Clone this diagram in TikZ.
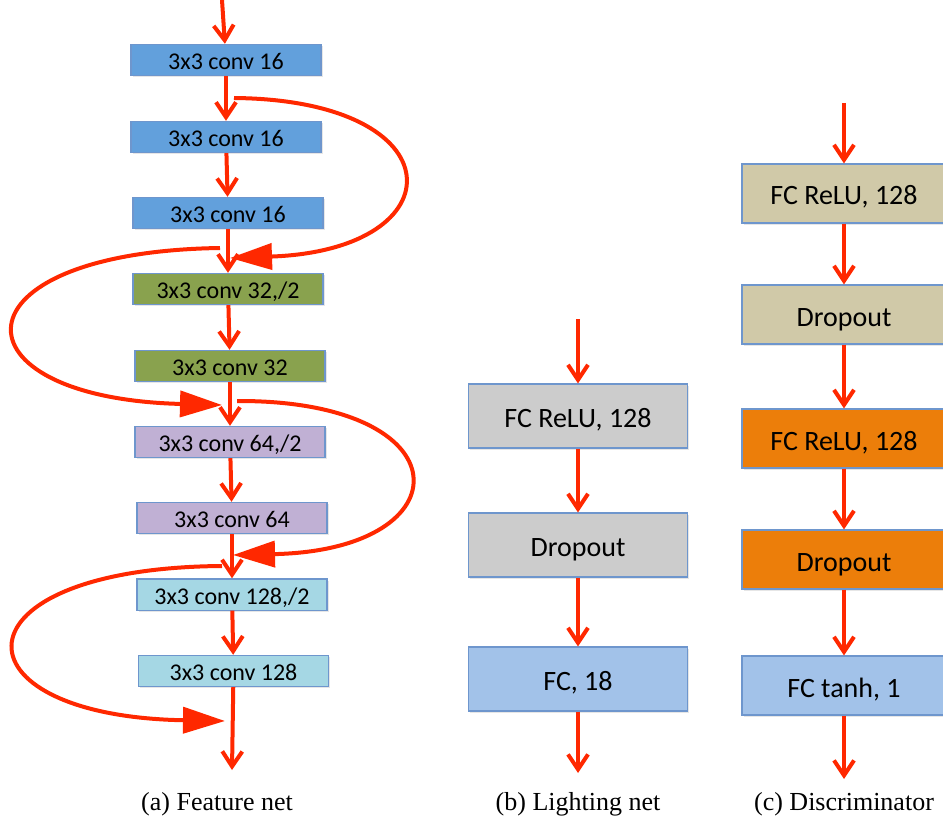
\documentclass[tikz,border=0pt]{standalone}
\usepackage{fontspec}
\setmainfont{Liberation Serif}
\setsansfont{Carlito}
\usetikzlibrary{arrows.meta,shadows}

\definecolor{arrowred}{RGB}{255,40,0}
\definecolor{boxline}{RGB}{110,150,205}
\definecolor{convblue}{RGB}{98,160,220}
\definecolor{convgreen}{RGB}{137,162,78}
\definecolor{convpurple}{RGB}{192,176,212}
\definecolor{convcyan}{RGB}{165,215,228}
\definecolor{fcgray}{RGB}{204,204,204}
\definecolor{fcblue}{RGB}{162,194,233}
\definecolor{fctan}{RGB}{208,201,168}
\definecolor{fcorange}{RGB}{236,126,10}

\begin{document}
\begin{tikzpicture}[x=0.5pt,y=-0.5pt]
  \tikzstyle{every node}=[font=\sffamily]
  \tikzstyle{layer}=[draw=boxline, line width=0.6pt, inner sep=0pt,
    drop shadow={opacity=0.2, shadow xshift=0.8pt, shadow yshift=-0.8pt}]
  \tikzstyle{convbox}=[layer, minimum width=95pt, minimum height=15pt,
    text height=12.6pt, text depth=3pt, font=\sffamily\fontsize{12}{12}\selectfont]
  \tikzstyle{lightbox}=[layer, minimum width=109.5pt, minimum height=32pt,
    text height=15pt, text depth=3.5pt, font=\sffamily\fontsize{14}{14}\selectfont]
  \tikzstyle{discbox}=[layer, minimum width=102pt, minimum height=29.5pt,
    text height=15pt, text depth=3.5pt, font=\sffamily\fontsize{14}{14}\selectfont]
  \tikzstyle{flow}=[draw=arrowred, line width=2pt, -{Straight Barb[length=7.5pt,width=10pt]}]
  \tikzstyle{skip}=[draw=arrowred, line width=2pt, -{Triangle[length=21pt,width=13pt]}]
  \tikzstyle{caption}=[font=\rmfamily\fontsize{13}{13}\selectfont]

  \useasboundingbox (0,0) rectangle (943,824);

  % (a) feature net
  \node[convbox, fill=convblue] (conva) at (226,60) {3x3 conv 16};
  \node[convbox, fill=convblue] (convb) at (226,137) {3x3 conv 16};
  \node[convbox, fill=convblue] (convc) at (228,213) {3x3 conv 16};
  \node[convbox, fill=convgreen] (convd) at (228,289) {3x3 conv 32,/2};
  \node[convbox, fill=convgreen] (conve) at (230,366) {3x3 conv 32};
  \node[convbox, fill=convpurple] (convf) at (230,442) {3x3 conv 64,/2};
  \node[convbox, fill=convpurple] (convg) at (232,518) {3x3 conv 64};
  \node[convbox, fill=convcyan] (convh) at (232,594.5) {3x3 conv 128,/2};
  \node[convbox, fill=convcyan] (convi) at (233.5,671) {3x3 conv 128};

  \coordinate (featin) at (222,0);
  \coordinate (featout) at (232,770);

  % (b) lighting net
  \node[lightbox, fill=fcgray] (lightfc) at (578,416) {FC ReLU, 128};
  \node[lightbox, fill=fcgray] (lightdrop) at (578,545) {Dropout};
  \node[lightbox, fill=fcblue] (lightout) at (578,679) {FC, 18};

  \coordinate (lightin) at (578,319);
  \coordinate (lightend) at (578,773);

  % (c) discriminator
  \node[discbox, fill=fctan] (discfc) at (844,193.5) {FC ReLU, 128};
  \node[discbox, fill=fctan] (discdrop) at (844,314.5) {Dropout};
  \node[discbox, fill=fcorange] (discfcb) at (844,438.5) {FC ReLU, 128};
  \node[discbox, fill=fcorange] (discdropb) at (844,559.5) {Dropout};
  \node[discbox, fill=fcblue] (discout) at (844,685.5) {FC tanh, 1};

  \coordinate (discin) at (844,103);
  \coordinate (discend) at (844,779);

  \draw[flow] (featin) -- (conva);
  \draw[flow] (conva) -- (convb);
  \draw[flow] (convb) -- (convc);
  \draw[flow] (convc) -- (convd);
  \draw[flow] (convd) -- (conve);
  \draw[flow] (conve) -- (convf);
  \draw[flow] (convf) -- (convg);
  \draw[flow] (convg) -- (convh);
  \draw[flow] (convh) -- (convi);
  \draw[flow] (convi) -- (featout);

  \draw[flow] (lightin) -- (lightfc);
  \draw[flow] (lightfc) -- (lightdrop);
  \draw[flow] (lightdrop) -- (lightout);
  \draw[flow] (lightout) -- (lightend);

  \draw[flow] (discin) -- (discfc);
  \draw[flow] (discfc) -- (discdrop);
  \draw[flow] (discdrop) -- (discfcb);
  \draw[flow] (discfcb) -- (discdropb);
  \draw[flow] (discdropb) -- (discout);
  \draw[flow] (discout) -- (discend);

  % shortcuts
  \coordinate (skipa) at (234,98);
  \coordinate (joina) at (230,258);
  \coordinate (skipb) at (220,248);
  \coordinate (joinb) at (222,405);
  \coordinate (skipc) at (237,401);
  \coordinate (joinc) at (233,555);
  \coordinate (skipd) at (222,566);
  \coordinate (joind) at (225,721);

  \draw[skip] (skipa) .. controls (458,100) and (458,250) .. (joina);
  \draw[skip] (skipb) .. controls (-52,252) and (-52,398) .. (joinb);
  \draw[skip] (skipc) .. controls (466,400) and (466,550) .. (joinc);
  \draw[skip] (skipd) .. controls (-52,568) and (-52,716) .. (joind);

  \node[caption] (capa) at (217,804) {(a) Feature net};
  \node[caption] (capb) at (578,804) {(b) Lighting net};
  \node[caption] (capc) at (844,804) {(c) Discriminator};

\end{tikzpicture}
\end{document}
